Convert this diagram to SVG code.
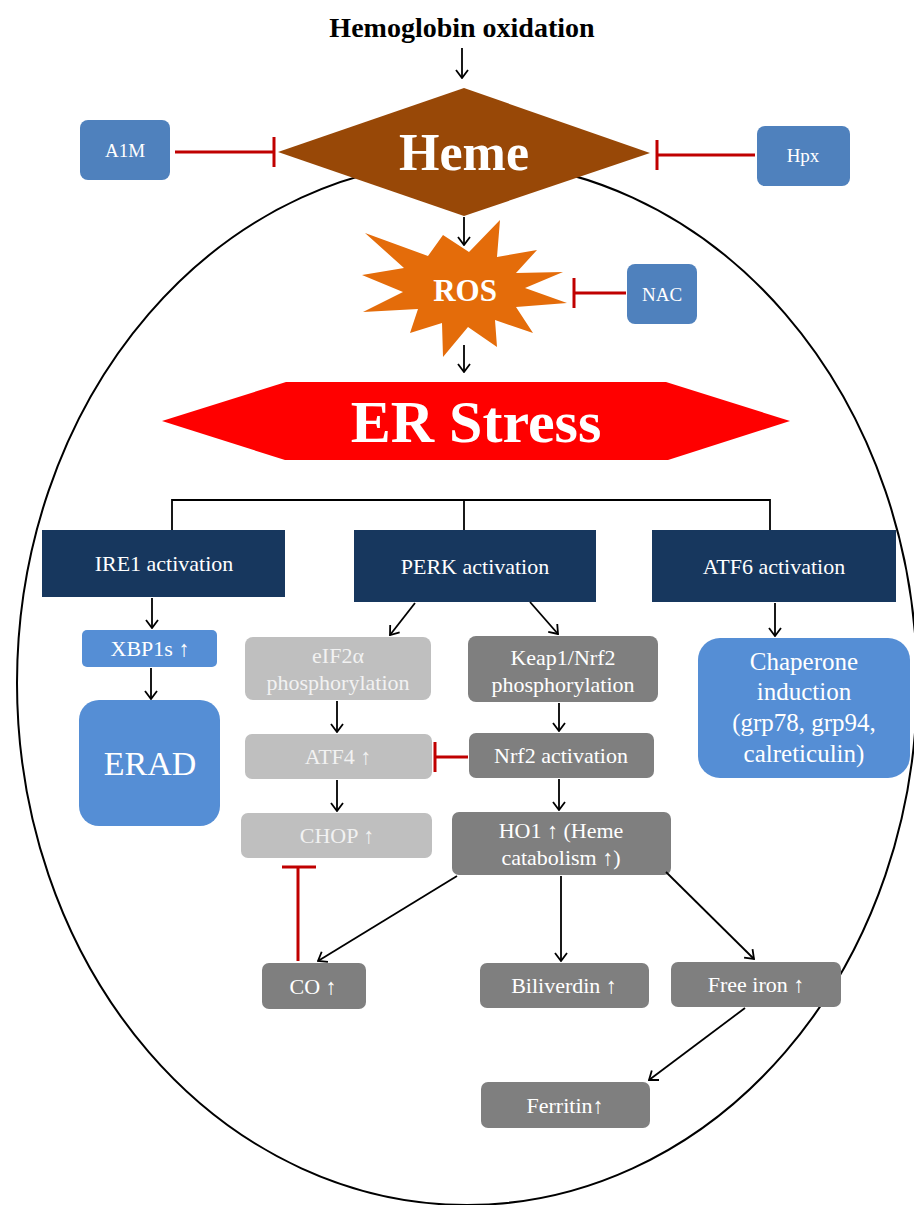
<svg xmlns="http://www.w3.org/2000/svg" width="914" height="1205" viewBox="0 0 914 1205">
<defs>
<style>
.t{font-family:"Liberation Serif","Times New Roman",serif;fill:#ffffff;text-anchor:middle}
.tg{font-family:"Liberation Serif","Times New Roman",serif;fill:#f2f2f2;text-anchor:middle}
.ln{stroke:#000;stroke-width:1.8;fill:none}
.inh{stroke:#c00000;stroke-width:3;fill:none}
.navy{fill:#17375e}
.blue{fill:#4f81bd}
.lblue{fill:#558ed5}
.lgray{fill:#bfbfbf}
.dgray{fill:#7f7f7f}
</style>
<marker id="arr" viewBox="-9 -7 10 14" markerWidth="10" markerHeight="14" refX="0" refY="0" orient="auto" markerUnits="userSpaceOnUse">
<path d="M-8,-6 L0,0 L-8,6" fill="none" stroke="#000" stroke-width="1.8"/>
</marker>
</defs>
<rect width="914" height="1205" fill="#fff"/>
<ellipse id="cell" cx="467" cy="683" rx="450" ry="522" fill="none" stroke="#000" stroke-width="2"/>

<text x="462" y="37" font-family="Liberation Serif, Times New Roman, serif" font-weight="bold" font-size="28" text-anchor="middle" fill="#000">Hemoglobin oxidation</text>

<g id="heme">
<polygon points="278,152 464,88 650,153 464,216" fill="#984807"/>
<text class="t" x="464" y="170" font-size="52" font-weight="bold">Heme</text>
</g>
<g id="a1m">
<rect x="80" y="120" width="90" height="60" rx="8" class="blue"/>
<text class="t" x="125" y="157" font-size="19">A1M</text>
</g>
<g id="hpx">
<rect x="757" y="126" width="93" height="60" rx="8" class="blue"/>
<text class="t" x="803" y="162" font-size="19">Hpx</text>
</g>
<g id="ros">
<polygon points="365,233 428,256 443,235 469,252 500,220 497,257 537,250 516,273 563,272 525,288 567,303 516,307 533,333 495,320 497,347 468,327 443,357 442,323 410,333 418,309 363,312 403,292 362,275 404,268" fill="#e46c0a"/>
<text class="t" x="465" y="301" font-size="31" font-weight="bold">ROS</text>
</g>
<g id="nac">
<rect x="627" y="264" width="70" height="60" rx="8" class="blue"/>
<text class="t" x="662" y="301" font-size="19">NAC</text>
</g>
<g id="erstress">
<polygon points="162,421 286,382 666,382 790,421 668,460 285,460" fill="#ff0000"/>
<text class="t" x="476" y="442" font-size="60" font-weight="bold">ER Stress</text>
</g>

<g id="ire1">
<rect x="42" y="530" width="243" height="67" class="navy"/>
<text class="t" x="164" y="571" font-size="22">IRE1 activation</text>
</g>
<g id="perk">
<rect x="354" y="530" width="242" height="72" class="navy"/>
<text class="t" x="475" y="574" font-size="22">PERK activation</text>
</g>
<g id="atf6">
<rect x="652" y="530" width="244" height="72" class="navy"/>
<text class="t" x="774" y="574" font-size="22">ATF6 activation</text>
</g>
<g id="xbp1s">
<rect x="82" y="630" width="135" height="37" rx="5" class="lblue"/>
<text class="t" x="150" y="656" font-size="22">XBP1s ↑</text>
</g>
<g id="erad">
<rect x="79" y="700" width="141" height="126" rx="20" class="lblue"/>
<text class="t" x="150" y="775" font-size="34">ERAD</text>
</g>
<g id="eif2a">
<rect x="245" y="637" width="186" height="63" rx="8" class="lgray"/>
<text class="tg" x="338" y="663" font-size="22">eIF2α</text>
<text class="tg" x="338" y="690" font-size="22">phosphorylation</text>
</g>
<g id="keap1">
<rect x="468" y="636" width="190" height="66" rx="8" class="dgray"/>
<text class="t" x="563" y="665" font-size="22">Keap1/Nrf2</text>
<text class="t" x="563" y="692" font-size="22">phosphorylation</text>
</g>
<g id="atf4">
<rect x="245" y="734" width="187" height="45" rx="7" class="lgray"/>
<text class="tg" x="338" y="764" font-size="22">ATF4 ↑</text>
</g>
<g id="nrf2">
<rect x="469" y="733" width="185" height="45" rx="7" class="dgray"/>
<text class="t" x="561" y="763" font-size="22">Nrf2  activation</text>
</g>
<g id="chop">
<rect x="241" y="813" width="191" height="45" rx="7" class="lgray"/>
<text class="tg" x="337" y="843" font-size="22">CHOP ↑</text>
</g>
<g id="ho1">
<rect x="452" y="812" width="219" height="63" rx="7" class="dgray"/>
<text class="t" x="561" y="838" font-size="22">HO1 ↑ (Heme</text>
<text class="t" x="561" y="865" font-size="22">catabolism ↑)</text>
</g>
<g id="chaperone">
<rect x="698" y="638" width="212" height="140" rx="22" class="lblue"/>
<text class="t" x="804" y="670" font-size="25">Chaperone</text>
<text class="t" x="804" y="700" font-size="25">induction</text>
<text class="t" x="804" y="731" font-size="25">(grp78, grp94,</text>
<text class="t" x="804" y="762" font-size="25">calreticulin)</text>
</g>
<g id="co">
<rect x="262" y="963" width="104" height="46" rx="7" class="dgray"/>
<text class="t" x="313" y="994" font-size="22">CO ↑</text>
</g>
<g id="biliverdin">
<rect x="480" y="963" width="169" height="45" rx="7" class="dgray"/>
<text class="t" x="564" y="993" font-size="22">Biliverdin  ↑</text>
</g>
<g id="freeiron">
<rect x="671" y="962" width="170" height="45" rx="7" class="dgray"/>
<text class="t" x="756" y="992" font-size="22">Free iron ↑</text>
</g>
<g id="ferritin">
<rect x="481" y="1082" width="169" height="46" rx="7" class="dgray"/>
<text class="t" x="565" y="1113" font-size="22">Ferritin↑</text>
</g>

<g id="connectors">
<line class="ln" x1="462" y1="48" x2="462" y2="78" marker-end="url(#arr)"/>
<line class="ln" x1="464" y1="217" x2="464" y2="245" marker-end="url(#arr)"/>
<line class="ln" x1="464" y1="345" x2="464" y2="372" marker-end="url(#arr)"/>
<polyline class="ln" points="172,530 172,500 770,500 770,530"/>
<line class="ln" x1="464" y1="500" x2="464" y2="530"/>
<line class="ln" x1="152" y1="598" x2="152" y2="628" marker-end="url(#arr)"/>
<line class="ln" x1="151" y1="668" x2="151" y2="699" marker-end="url(#arr)"/>
<line class="ln" x1="415" y1="603" x2="390" y2="635" marker-end="url(#arr)"/>
<line class="ln" x1="530" y1="602" x2="558" y2="634" marker-end="url(#arr)"/>
<line class="ln" x1="775" y1="603" x2="775" y2="636" marker-end="url(#arr)"/>
<line class="ln" x1="337" y1="701" x2="337" y2="732" marker-end="url(#arr)"/>
<line class="ln" x1="337" y1="780" x2="337" y2="811" marker-end="url(#arr)"/>
<line class="ln" x1="559" y1="703" x2="559" y2="731" marker-end="url(#arr)"/>
<line class="ln" x1="559" y1="779" x2="559" y2="810" marker-end="url(#arr)"/>
<line class="ln" x1="457" y1="876" x2="318" y2="961" marker-end="url(#arr)"/>
<line class="ln" x1="561" y1="876" x2="561" y2="961" marker-end="url(#arr)"/>
<line class="ln" x1="666" y1="872" x2="754" y2="959" marker-end="url(#arr)"/>
<line class="ln" x1="745" y1="1008" x2="649" y2="1080" marker-end="url(#arr)"/>
<line class="inh" x1="175" y1="152" x2="274" y2="152"/>
<line class="inh" x1="274" y1="137" x2="274" y2="167"/>
<line class="inh" x1="755" y1="155" x2="657" y2="155"/>
<line class="inh" x1="657" y1="140" x2="657" y2="170"/>
<line class="inh" x1="626" y1="293" x2="574" y2="293"/>
<line class="inh" x1="574" y1="278" x2="574" y2="308"/>
<line class="inh" x1="468" y1="757" x2="435" y2="757"/>
<line class="inh" x1="435" y1="742" x2="435" y2="772"/>
<line class="inh" x1="298" y1="961" x2="298" y2="867"/>
<line class="inh" x1="282" y1="867" x2="316" y2="867"/>
</g>
</svg>
